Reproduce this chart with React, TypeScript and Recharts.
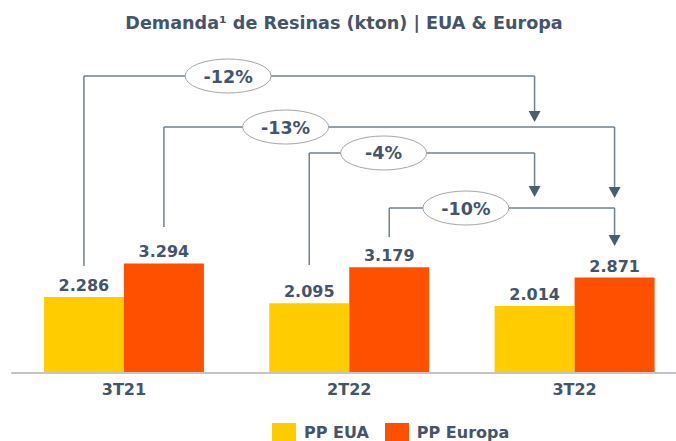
import React from 'react';
import { BarChart, Bar, XAxis, YAxis, LabelList, Legend, ReferenceLine, ReferenceDot } from 'recharts';

// ---- data ----
const categories = ['3T21', '2T22', '3T22'];
const ppEUA = [2286, 2095, 2014];
const ppEuropa = [3294, 3179, 2871];
const seriesNames = ['PP EUA', 'PP Europa'];
const seriesKeys = ['eua', 'europa'];
const seriesColors = ['#FFCC00', '#FF5000'];

// ---- comparison connectors (from bar -> to bar) ----
const connLabels = ['-12%', '-13%', '-4%', '-10%'];
const connSeries = [0, 1, 0, 1];
const connFromCat = [0, 0, 1, 1];
const connToCat = [2, 2, 2, 2];
const connStart = [3218, 4391, 3248, 4090]; // bottom of the rising leg (kton scale)
const connLevel = [8932, 7398, 6617, 4962]; // horizontal leg level (kton scale)
const connTip = [7549, 5263, 5293, 3820]; // arrow tip level (kton scale)
const connLabelAt = [0.32, 0.27, 0.33, 0.34]; // fraction along horizontal leg

const data = categories.map((c, i) => ({ cat: c, idx: i + 0.5, eua: ppEUA[i], europa: ppEuropa[i] }));

const TEXT = '#44546A';
const LINE = '#6F8290';
const ARROW = '#4A5F6E';
const FONT = 'DejaVu Sans, Verdana, sans-serif';
const GAP = 0.145;
const BAR_OFFSET = (1 - 2 * GAP) / 4;

const posOf = (cat: number, s: number) => cat + 0.5 + (s === 0 ? -1 : 1) * BAR_OFFSET;

const fmt = (v: number) => `${Math.floor(v / 1000)}.${String(v % 1000).padStart(3, '0')}`;

const ArrowDown = (p: any) => {
  const { x1, y1, x2, y2 } = p;
  const h = 11;
  const w = 6;
  return (
    <g>
      <line x1={x1} y1={y1} x2={x2} y2={y2 - h + 2} stroke={LINE} strokeWidth={1.5} />
      <polygon points={`${x2 - w},${y2 - h} ${x2 + w},${y2 - h} ${x2},${y2}`} fill={ARROW} />
    </g>
  );
};

const LegendContent = (props: any) => {
  const payload = props.payload || [];
  return (
    <div style={{ display: 'flex', alignItems: 'flex-start', fontFamily: FONT, fontWeight: 'bold', fontSize: 16, color: TEXT }}>
      {payload.map((e: any, i: number) => (
        <div key={i} style={{ display: 'flex', alignItems: 'flex-start', marginRight: 16 }}>
          <div style={{ width: 24, height: 24, background: e.color, marginRight: 8 }} />
          <div style={{ lineHeight: '24px', whiteSpace: 'nowrap', marginTop: -2 }}>{e.value}</div>
        </div>
      ))}
    </div>
  );
};

export default function App() {
  const connectors = connLabels.map((label, i) => {
    const fx = posOf(connFromCat[i], connSeries[i]);
    const tx = posOf(connToCat[i], connSeries[i]);
    return { label, fx, tx, start: connStart[i], level: connLevel[i], tip: connTip[i], lx: fx + connLabelAt[i] * (tx - fx) };
  });

  return (
    <div style={{ position: 'absolute', left: 0, top: 0, width: 676, height: 441, overflow: 'hidden', background: '#fff' }}>
      <div
        style={{
          position: 'absolute',
          left: 0,
          top: 13,
          width: 688,
          textAlign: 'center',
          fontFamily: FONT,
          fontWeight: 'bold',
          fontSize: 17.6,
          lineHeight: '20px',
          color: TEXT,
        }}
      >
        Demanda¹ de Resinas (kton) | EUA &amp; Europa
      </div>
      <BarChart
        width={700}
        height={441}
        data={data}
        margin={{ top: 40.5, right: 12.75, left: 11.25, bottom: 38 }}
        barGap={0}
        barCategoryGap={`${GAP * 100}%`}
        style={{ fontFamily: FONT }}
      >
        <XAxis
          dataKey="cat"
          height={30}
          tickLine={false}
          tickMargin={5}
          axisLine={{ stroke: '#C4C4C4', strokeWidth: 2 }}
          tick={{ fill: TEXT, fontSize: 16, fontWeight: 'bold', fontFamily: FONT }}
        />
        <XAxis xAxisId="pos" dataKey="idx" type="number" domain={[0, categories.length]} hide allowDataOverflow orientation="top" />
        <YAxis domain={[0, 10000]} hide allowDataOverflow />
        {seriesKeys.map((k, i) => (
          <Bar key={k} dataKey={k} name={seriesNames[i]} fill={seriesColors[i]} isAnimationActive={false}>
            <LabelList
              dataKey={k}
              position="top"
              offset={6}
              formatter={(v: any) => fmt(Number(v))}
              style={{ fill: TEXT, fontSize: 16, fontWeight: 'bold', fontFamily: FONT }}
            />
          </Bar>
        ))}
        {connectors.map((c, i) => (
          <ReferenceLine
            key={`up${i}`}
            xAxisId="pos"
            ifOverflow="visible"
            segment={[{ x: c.fx, y: c.start }, { x: c.fx, y: c.level }]}
            stroke={LINE}
            strokeWidth={1.5}
          />
        ))}
        {connectors.map((c, i) => (
          <ReferenceLine
            key={`h${i}`}
            xAxisId="pos"
            ifOverflow="visible"
            segment={[{ x: c.fx, y: c.level }, { x: c.tx, y: c.level }]}
            stroke={LINE}
            strokeWidth={1.5}
          />
        ))}
        {connectors.map((c, i) => (
          <ReferenceLine
            key={`d${i}`}
            xAxisId="pos"
            ifOverflow="visible"
            segment={[{ x: c.tx, y: c.level }, { x: c.tx, y: c.tip }]}
            shape={ArrowDown}
          />
        ))}
        {connectors.map((c, i) => (
          <ReferenceDot
            key={`l${i}`}
            xAxisId="pos"
            ifOverflow="visible"
            x={c.lx}
            y={c.level}
            r={1}
            shape={(p: any) => (
              <g>
                <ellipse cx={p.cx} cy={p.cy} rx={43} ry={17} fill="#fff" stroke="#A6A6A6" strokeWidth={1} />
                <text
                  x={p.cx}
                  y={p.cy + 6.5}
                  textAnchor="middle"
                  fill={TEXT}
                  fontSize={17.5}
                  fontWeight="bold"
                  fontFamily={FONT}
                >
                  {c.label}
                </text>
              </g>
            )}
          />
        ))}
        <Legend
          verticalAlign="middle"
          align="center"
          layout="horizontal"
          content={LegendContent}
          wrapperStyle={{ top: 423, left: 272, width: 320 }}
        />
      </BarChart>
    </div>
  );
}
